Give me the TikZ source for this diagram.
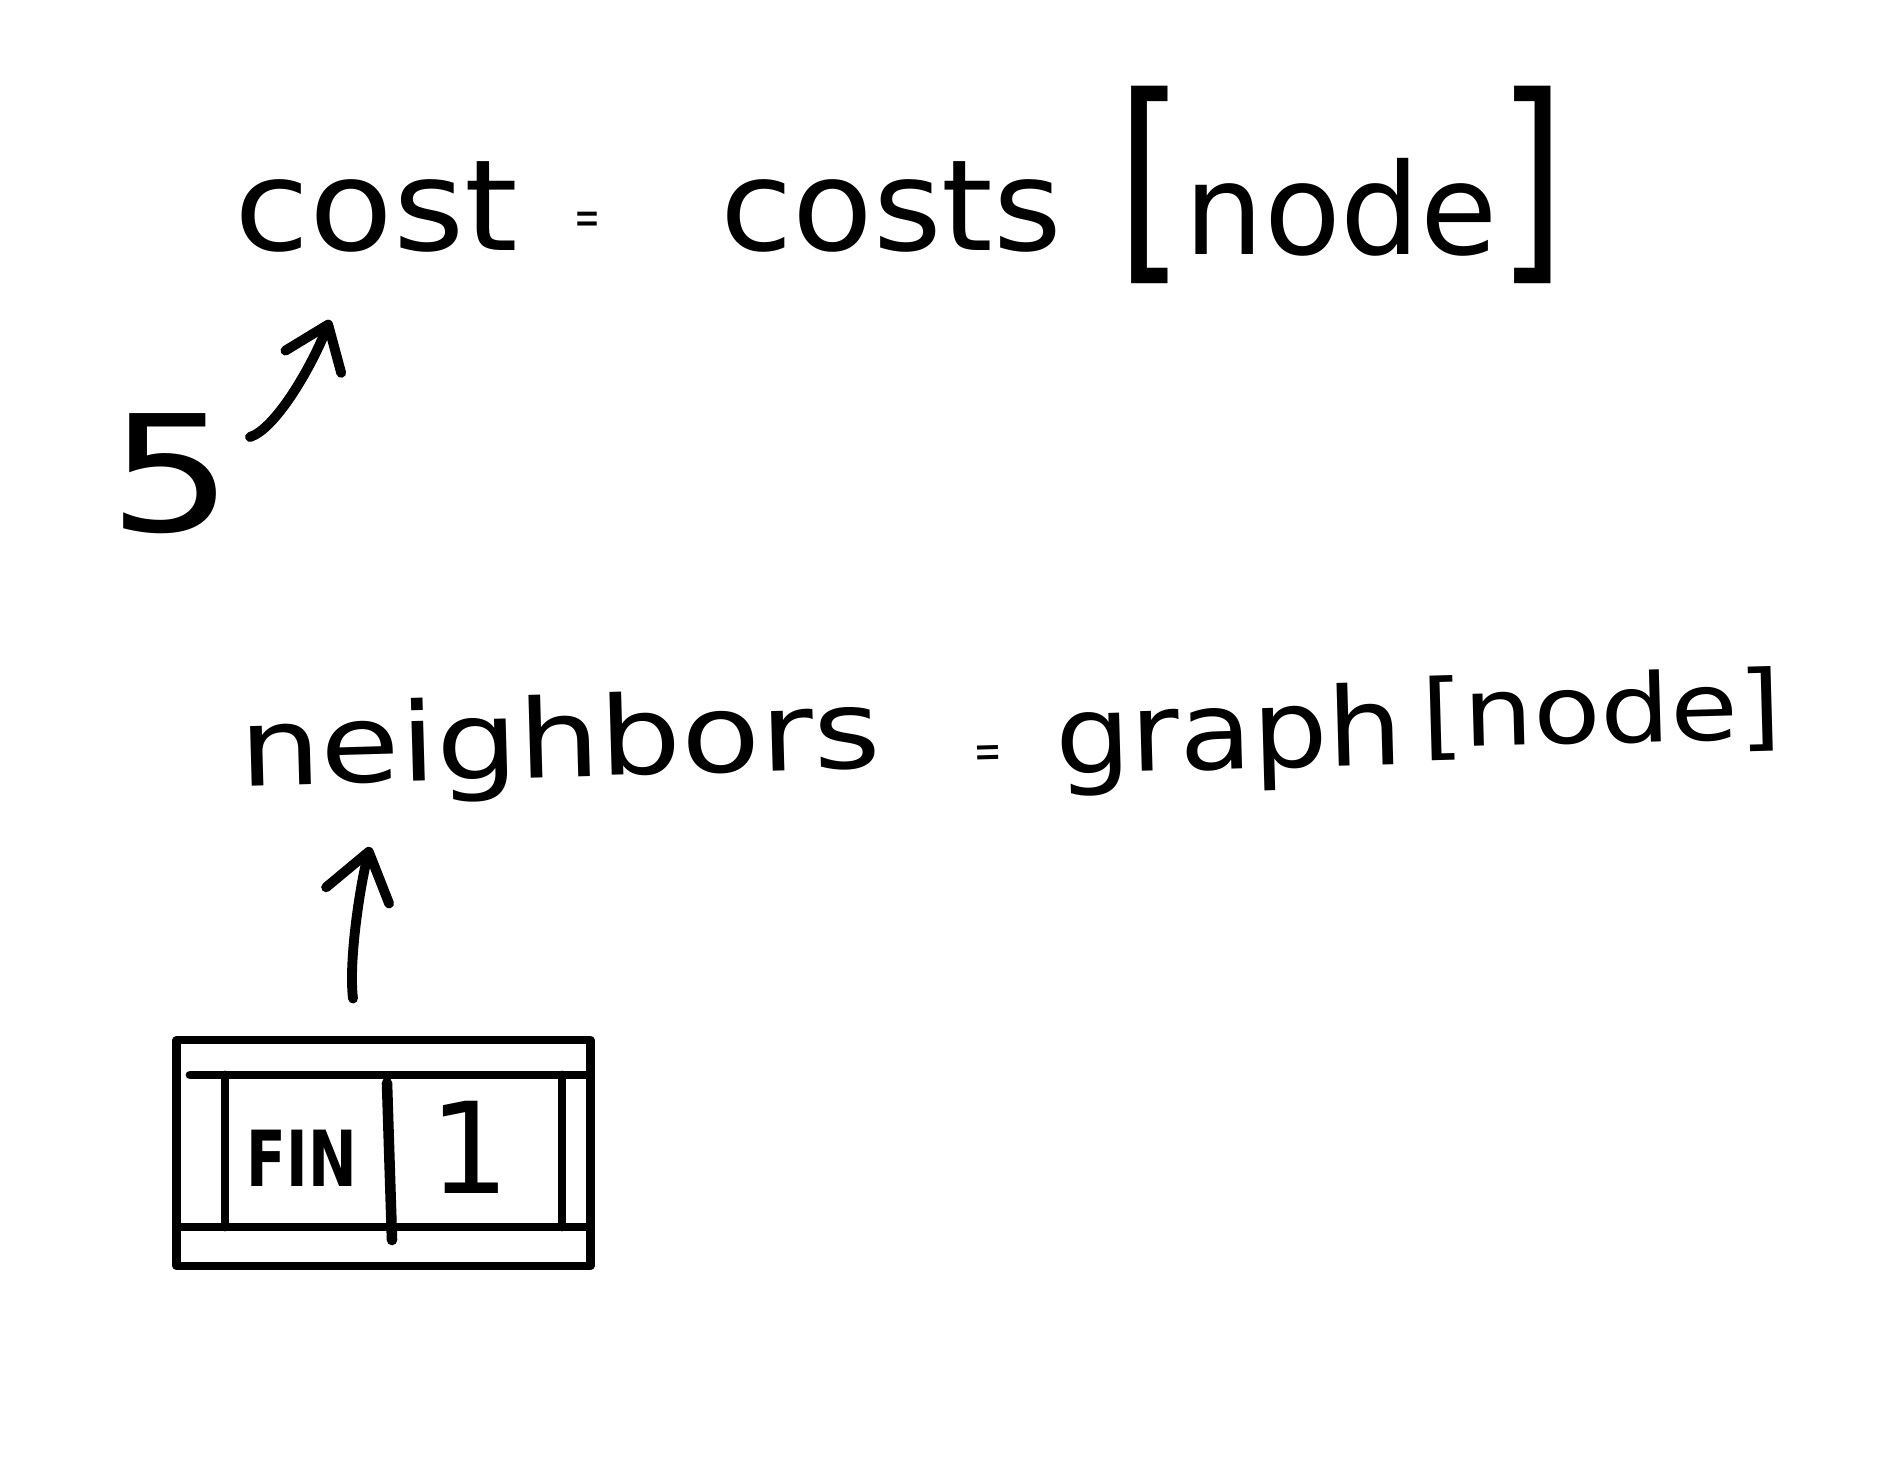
\documentclass[tikz,border=0pt]{standalone}
\usepackage{fontspec}
\setmainfont{DejaVu Sans}
\usetikzlibrary{arrows.meta,calc}
\tikzset{
  txt/.style={inner sep=0pt, outer sep=0pt, anchor=base west, text=black},
  ctxt/.style={inner sep=0pt, outer sep=0pt, text=black},
  ink/.style={line width=2.5pt, line cap=round, line join=round, draw=black},
  arrA/.style={ink, line width=2.8pt, -{Straight Barb[length=4mm,width=6mm,round]}},
  arrB/.style={ink, line width=2.8pt, -{Straight Barb[length=4.5mm,width=6.5mm,round]}},
}
\newcommand\hfit[3]{{\fontsize{#1}{#1}\selectfont\resizebox{#2}{\height}{#3}}}
\newcommand\tallbr[1]{\scalebox{1.4}[1.75]{#1}}
\begin{document}
\begin{tikzpicture}[x=0.01cm,y=-0.01cm]
\fill[white] (0,0) rectangle (1881,1462);
\useasboundingbox (0,0) rectangle (1881,1462);
% line 1
\node[txt] (cost) at (234,250) {\hfit{36}{2.84cm}{cost}};
\node[ctxt] (eq1) at (587,223) {\hfit{14}{0.26cm}{=}};
\node[txt] (costs) at (720,250) {\hfit{36}{3.42cm}{costs}};
\node[txt] (idx1) at (1116,254) {\hfit{36}{4.5cm}{\tallbr{[}node\tallbr{]}}};
% five
\node[ctxt] (five) at (171,474) {\hfit{46}{1.25cm}{5}};
% line 2
\node[txt,rotate=1.6] (nb) at (240,786) {\hfit{31}{6.42cm}{neighbors}};
\node[ctxt,rotate=1.6] (eq2) at (988,757) {\hfit{14}{0.28cm}{=}};
\node[txt,rotate=1.6] (graph) at (1056,774) {\hfit{31}{3.48cm}{graph}};
\node[txt,rotate=1.6] (idx2) at (1422,748) {\hfit{27}{3.6cm}{[node]}};
% box
\node[ink, draw, minimum width=4.13cm, minimum height=2.26cm, inner sep=0pt] (rec) at (383.5,1153) {};
\draw[ink] (190,1075) -- (587,1075);
\draw[ink] (177,1227) -- (590,1227);
\draw[ink] (225,1075) -- (225,1227);
\draw[ink] (562,1075) -- (562,1227);
\draw[ink, line width=3pt] (387,1083) -- (392,1240);
\node[ctxt] (fin) at (302,1158) {\bfseries\hfit{22}{1.1cm}{FIN}};
\node[ctxt] (one) at (470,1147) {\fontsize{36}{36}\selectfont 1};
% arrows
\draw[arrA] ($(five.center)+(79,-37)$) .. controls ($(five.center)+(104,-45)$) and ($(cost.base west)+(76,120)$) .. ($(cost.base west)+(96,70)$);
\draw[arrB] ($(rec.north)+(-30.5,-37)$) .. controls ($(rec.north)+(-35,-75)$) and ($(nb.base west)+(120,100)$) .. ($(nb.base west)+(130,61)$);
\end{tikzpicture}
\end{document}
